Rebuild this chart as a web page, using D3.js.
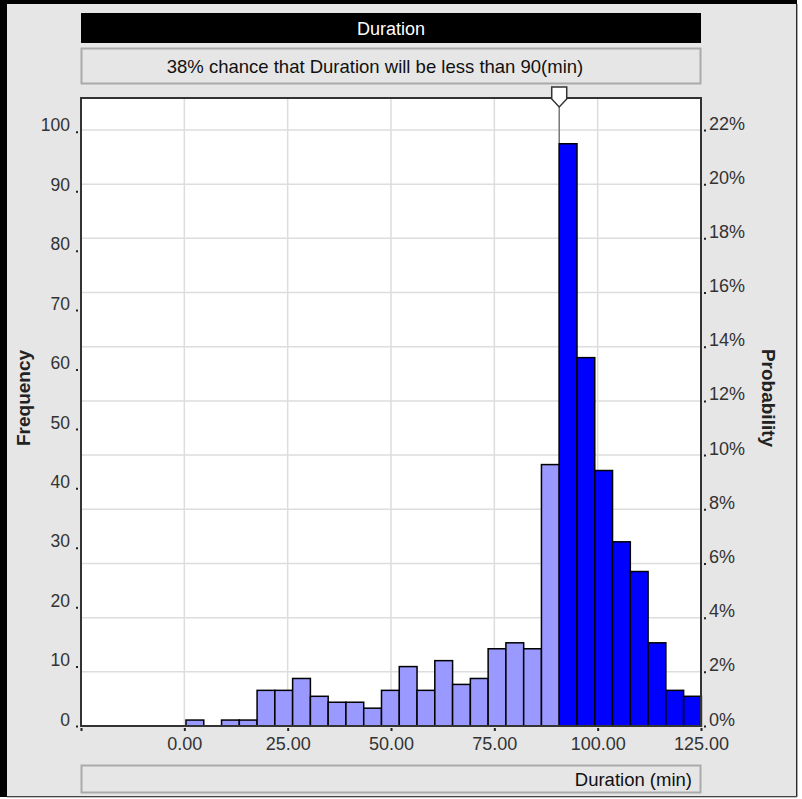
<!DOCTYPE html>
<html>
<head>
<meta charset="utf-8">
<script src="https://cdn.jsdelivr.net/npm/d3@7"></script>
<style>
  body { margin: 0; background: #fff; }
  svg text { font-family: "Liberation Sans", Arial, sans-serif; }
</style>
</head>
<body>
<div id="container"></div>
<script>
// histogram data
const binEdges = [0.4, 4.7, 9.0, 13.3, 17.6, 21.9, 26.2, 30.5, 34.8, 39.1, 43.4, 47.7, 52.0, 56.3, 60.6,
  64.9, 69.2, 73.5, 77.8, 82.1, 86.4, 90.7, 95.0, 99.3, 103.6, 107.9, 112.2, 116.5, 120.8, 125.1]
const counts = [1, 0, 1, 1, 6, 6, 8, 5, 4, 4, 3, 6, 10, 6, 11, 7, 8, 13, 14, 13, 44, 98, 62, 43, 31, 26, 14, 6, 5]
const xTicks = [-25, 0, 25, 50, 75, 100, 125]
const xLabels = ["", "0.00", "25.00", "50.00", "75.00", "100.00", "125.00"]
const freqTicks = [0, 10, 20, 30, 40, 50, 60, 70, 80, 90, 100]
const probTicks = [0, 0.02, 0.04, 0.06, 0.08, 0.10, 0.12, 0.14, 0.16, 0.18, 0.20, 0.22]
const cutoff = 90.7
const chartTitle = "Duration"
const certaintyText = "38% chance that Duration will be less than 90(min)"
const axisTitle = "Duration (min)"

const w = 802
const h = 799
const pLeft = 81, pRight = 701, pTop = 98, pBottom = 726
const total = d3.sum(counts)
const yMax = 105.7

const bins = counts.map((c, i) => ({ x0: binEdges[i], x1: binEdges[i + 1], n: c }))

const xScale = d3.scaleLinear().domain([-25, 125]).range([pLeft, pRight])
const yScale = d3.scaleLinear().domain([0, yMax]).range([pBottom, pTop])
const pScale = d3.scaleLinear().domain([0, yMax / total]).range([pBottom, pTop])

const svg = d3.select("#container").append("svg")
  .attr("width", w).attr("height", h)

// window frame
svg.append("rect").attr("x", 0).attr("y", 0).attr("width", w).attr("height", h).attr("fill", "#fff")
svg.append("rect").attr("x", 0).attr("y", 0).attr("width", 797).attr("height", 797).attr("fill", "#000")
svg.append("rect").attr("x", 7).attr("y", 4).attr("width", 789).attr("height", 792).attr("fill", "#e6e6e6")
svg.append("line").attr("x1", 797).attr("x2", 797).attr("y1", 4).attr("y2", 797).attr("stroke", "#555")
svg.append("line").attr("x1", 7).attr("x2", 797).attr("y1", 797).attr("y2", 797).attr("stroke", "#888")

// title bar
svg.append("rect").attr("x", pLeft).attr("y", 13).attr("width", pRight - pLeft).attr("height", 30).attr("fill", "#000")
svg.append("text").attr("x", (pLeft + pRight) / 2).attr("y", 34.5).attr("text-anchor", "middle")
  .attr("fill", "#fff").style("font-size", "18px").text(chartTitle)

svg.append("rect").attr("x", pLeft + 0.5).attr("y", 48.5).attr("width", pRight - pLeft - 1).attr("height", 35)
  .attr("fill", "#e6e6e6").attr("stroke", "#aaa").attr("stroke-width", 2)
svg.append("text").attr("x", 375).attr("y", 72.5).attr("text-anchor", "middle")
  .attr("fill", "#111").style("font-size", "18.5px").text(certaintyText)

// plot area
svg.append("rect").attr("x", pLeft).attr("y", pTop).attr("width", pRight - pLeft).attr("height", pBottom - pTop)
  .attr("fill", "#fff")

// grid
svg.append("g").selectAll("line").data(xTicks.filter(d => d > -25 && d < 125)).enter().append("line")
  .attr("x1", d => xScale(d)).attr("x2", d => xScale(d))
  .attr("y1", pTop).attr("y2", pBottom)
  .attr("stroke", "#ddd").attr("stroke-width", 1.5)
svg.append("g").selectAll("line").data(probTicks.slice(1)).enter().append("line")
  .attr("x1", pLeft).attr("x2", pRight)
  .attr("y1", d => pScale(d)).attr("y2", d => pScale(d))
  .attr("stroke", "#ddd").attr("stroke-width", 1.5)

// marker line
svg.append("line").attr("x1", xScale(cutoff)).attr("x2", xScale(cutoff))
  .attr("y1", 104).attr("y2", pBottom).attr("stroke", "#777").attr("stroke-width", 1.5)

// bars
svg.append("g").selectAll("rect").data(bins.filter(d => d.n > 0)).enter().append("rect")
  .attr("x", d => xScale(d.x0))
  .attr("y", d => yScale(d.n))
  .attr("width", d => xScale(d.x1) - xScale(d.x0))
  .attr("height", d => yScale(0) - yScale(d.n))
  .attr("fill", d => d.x0 >= cutoff - 0.01 ? "#0000ff" : "#9999ff")
  .attr("stroke", "#000").attr("stroke-width", 1.5)

// plot border
svg.append("rect").attr("x", pLeft).attr("y", pTop).attr("width", pRight - pLeft).attr("height", pBottom - pTop)
  .attr("fill", "none").attr("stroke", "#333").attr("stroke-width", 2)

// marker
const mx = xScale(cutoff)
svg.append("path")
  .attr("d", `M${mx - 7.5},87 L${mx + 7.5},87 L${mx + 7.5},99 L${mx},107 L${mx - 7.5},99 Z`)
  .attr("fill", "#fff").attr("stroke", "#333").attr("stroke-width", 1.5)

// left axis (frequency)
const yAxis = d3.axisLeft(yScale).tickValues(freqTicks).tickSize(2).tickPadding(6)
const gy = svg.append("g").attr("transform", `translate(${pLeft - 3},0)`).call(yAxis)
gy.select(".domain").remove()
gy.selectAll(".tick line").attr("stroke", "#222").attr("stroke-width", 2)
gy.selectAll(".tick text").attr("dy", "-0.05em").attr("fill", "#333")
  .style("font-size", "17.5px").style("font-family", "Liberation Sans, Arial, sans-serif")

// right axis (probability)
const pAxis = d3.axisRight(pScale).tickValues(probTicks).tickSize(2).tickPadding(3)
  .tickFormat(d => Math.round(d * 100) + "%")
const gp = svg.append("g").attr("transform", `translate(${pRight + 3},0)`).call(pAxis)
gp.select(".domain").remove()
gp.selectAll(".tick line").attr("stroke", "#222").attr("stroke-width", 2)
gp.selectAll(".tick text").attr("dy", "-0.05em").attr("fill", "#333")
  .style("font-size", "18px").style("font-family", "Liberation Sans, Arial, sans-serif")

// bottom axis
const xAxis = d3.axisBottom(xScale).tickValues(xTicks).tickSize(3).tickPadding(6)
  .tickFormat((d, i) => xLabels[i])
const gx = svg.append("g").attr("transform", `translate(0,${pBottom + 2})`).call(xAxis)
gx.select(".domain").remove()
gx.selectAll(".tick line").attr("stroke", "#222").attr("stroke-width", 2)
gx.selectAll(".tick text").attr("fill", "#333")
  .style("font-size", "18px").style("font-family", "Liberation Sans, Arial, sans-serif")

// axis titles
svg.append("text").attr("transform", "translate(30,398) rotate(-90)").attr("text-anchor", "middle")
  .style("font-size", "19px").style("font-weight", "bold").attr("fill", "#222").text("Frequency")
svg.append("text").attr("transform", "translate(762,398) rotate(90)").attr("text-anchor", "middle")
  .style("font-size", "19px").style("font-weight", "bold").attr("fill", "#222").text("Probability")

// bottom box
svg.append("rect").attr("x", pLeft + 0.5).attr("y", 765.5).attr("width", pRight - pLeft - 1).attr("height", 27)
  .attr("fill", "#e6e6e6").attr("stroke", "#aaa").attr("stroke-width", 2)
svg.append("text").attr("x", 692).attr("y", 786).attr("text-anchor", "end")
  .style("font-size", "18.5px").attr("fill", "#111").text(axisTitle)
</script>
</body>
</html>
